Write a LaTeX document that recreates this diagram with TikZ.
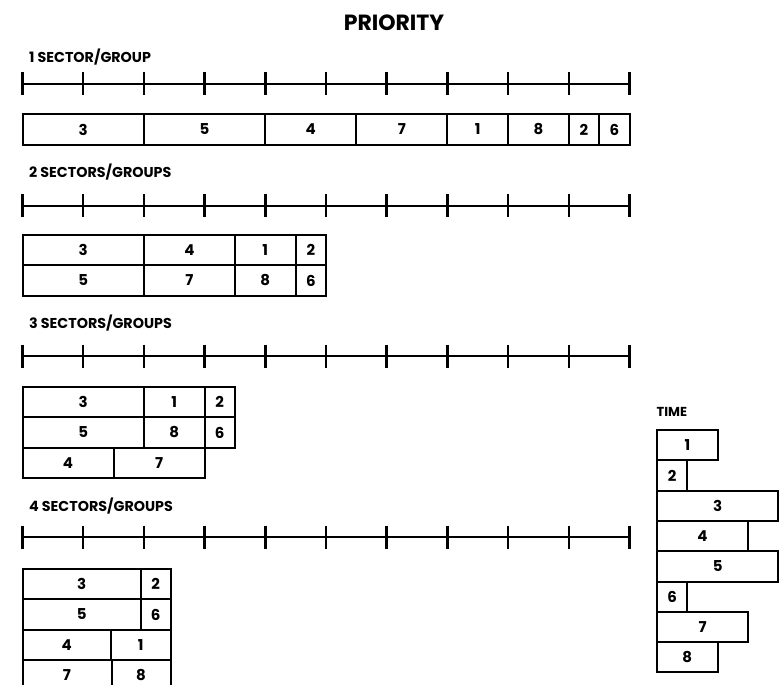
\documentclass[tikz,border=0pt]{standalone}
\usepackage{fontspec}
\setmainfont{Poppins}
\newcommand\bxn[6]{\node[bx, minimum width=#4pt] (#1) at (#2,#3) {#6};}
\begin{document}
\begin{tikzpicture}[x=1pt,y=-1pt,
  bx/.style={draw, line width=2pt, anchor=north west, minimum height=30.3pt, inner sep=0pt, outer sep=0pt, font=\bfseries\fontsize{15}{15}\selectfont},
  lbl/.style={anchor=base west, inner sep=0pt, font=\bfseries\fontsize{14.3}{14.3}\selectfont},
  tl/.style={line width=2pt},
  tk/.style={line width=2.5pt}]
\useasboundingbox (0,0) rectangle (780,685);
\clip (0,0) rectangle (780,685);

\node[anchor=base, inner sep=0pt, font=\bfseries\fontsize{22}{22}\selectfont] (title) at (394,30.7) {PRIORITY};

\node[lbl] (l1) at (29,62.3) {1 SECTOR/GROUP};
\node[lbl] (l2) at (29,177.5) {2 SECTORS/GROUPS};
\node[lbl] (l3) at (29,328.5) {3 SECTORS/GROUPS};
\node[lbl] (l4) at (29,511.7) {4 SECTORS/GROUPS};
\node[lbl, font=\bfseries\fontsize{13}{13}\selectfont] (lt) at (656.5,416) {TIME};

% timelines
\foreach \yy in {84,205.5,356,537} {
  \coordinate (ts) at (22.5,\yy);
  \coordinate (te) at (629.5,\yy);
  \draw[tl] (ts) -- (te);
  \foreach \i in {0,...,10} \draw[tk] (22.5+\i*60.7,\yy-11.5) -- ++(0,23);
}

% 1 sector
\begin{scope}[bx/.append style={minimum height=31pt}]
\bxn{a3}{22.5}{114}{121.4}{}{3}
\bxn{a5}{143.9}{114}{121.4}{}{5}
\bxn{a4}{265.3}{114}{91.05}{}{4}
\bxn{a7}{356.35}{114}{91.05}{}{7}
\bxn{a1}{447.4}{114}{60.7}{}{1}
\bxn{a8}{508.1}{114}{60.7}{}{8}
\bxn{a2}{568.8}{114}{30.35}{}{2}
\bxn{a6}{599.15}{114}{30.35}{}{6}
\end{scope}

% 2 sectors
\bxn{b3}{22.5}{235}{121.4}{}{3}
\bxn{b4}{143.9}{235}{91.05}{}{4}
\bxn{b1}{234.95}{235}{60.7}{}{1}
\bxn{b2}{295.65}{235}{30.35}{}{2}
\bxn{b5}{22.5}{265.3}{121.4}{}{5}
\bxn{b7}{143.9}{265.3}{91.05}{}{7}
\bxn{b8}{234.95}{265.3}{60.7}{}{8}
\bxn{b6}{295.65}{265.3}{30.35}{}{6}

% 3 sectors
\bxn{c3}{22.5}{387}{121.4}{}{3}
\bxn{c1}{143.9}{387}{60.7}{}{1}
\bxn{c2}{204.6}{387}{30.35}{}{2}
\bxn{c5}{22.5}{417.3}{121.4}{}{5}
\bxn{c8}{143.9}{417.3}{60.7}{}{8}
\bxn{c6}{204.6}{417.3}{30.35}{}{6}
\bxn{c4}{22.5}{447.6}{91.05}{}{4}
\bxn{c7}{113.55}{447.6}{91.05}{}{7}

% 4 sectors
\bxn{d3}{22.5}{569}{118.5}{}{3}
\bxn{d2}{141}{569}{29.5}{}{2}
\bxn{d5}{22.5}{599.3}{118.5}{}{5}
\bxn{d6}{141}{599.3}{29.5}{}{6}
\bxn{d4}{22.5}{629.6}{88.5}{}{4}
\bxn{d1}{111}{629.6}{59.5}{}{1}
\bxn{d7}{22.5}{659.9}{89}{}{7}
\bxn{d8}{111.5}{659.9}{59}{}{8}

% time
\bxn{t1}{657}{430}{60.7}{}{1}
\bxn{t2}{657}{460.3}{30.35}{}{2}
\bxn{t3}{657}{490.6}{121.4}{}{3}
\bxn{t4}{657}{520.9}{91.05}{}{4}
\bxn{t5}{657}{551.2}{121.4}{}{5}
\bxn{t6}{657}{581.5}{30.35}{}{6}
\bxn{t7}{657}{611.8}{91.05}{}{7}
\bxn{t8}{657}{642.1}{60.7}{}{8}
\end{tikzpicture}
\end{document}
